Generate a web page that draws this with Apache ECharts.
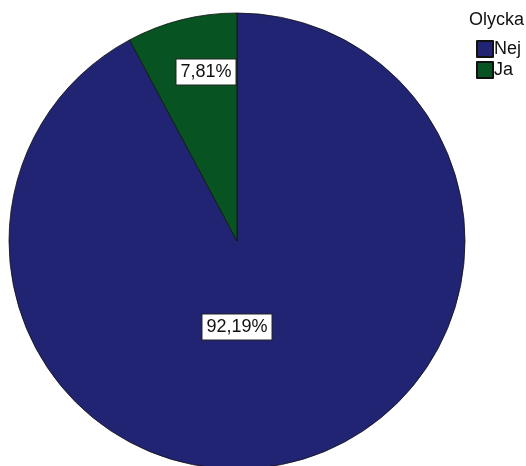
<!DOCTYPE html>
<html>
<head>
<meta charset="utf-8">
<script src="https://cdn.jsdelivr.net/npm/echarts@6/dist/echarts.min.js"></script>
<style>html,body{margin:0;padding:0;background:#fff;}#c{width:526px;height:466px;}</style>
</head>
<body>
<div id="c"></div>
<script>
const categories = ['Nej', 'Ja'];
const values = [92.19, 7.81];
const labelsText = ['92,19%', '7,81%'];
const colors = ['#212472', '#075321'];
const legendTitle = 'Olycka';

const chart = echarts.init(document.getElementById('c'), null, {renderer: 'canvas'});
const labelPos = [[237, 327], [206, 72]];
chart.setOption({
  animation: false,
  title: {
    text: legendTitle, left: 464, top: 6,
    textStyle: {fontFamily: 'Liberation Sans', fontSize: 18, fontWeight: 'normal', color: '#111'}
  },
  legend: {
    orient: 'vertical', left: 471, top: 35,
    icon: 'rect', itemWidth: 16, itemHeight: 16, itemGap: 3,
    textStyle: {fontFamily: 'Liberation Sans', fontSize: 18, color: '#111', padding: [0,0,0,-4]},
    data: categories
  },
  series: [{
    type: 'pie',
    center: [237, 241],
    radius: 228,
    startAngle: 90,
    clockwise: true,
    label: {
      show: true, position: 'inside',
      formatter: p => labelsText[p.dataIndex],
      fontFamily: 'Liberation Sans', fontSize: 18, color: '#111',
      backgroundColor: '#fff', borderColor: '#222', borderWidth: 1,
      padding: [4, 4, 3, 4], align: 'center', verticalAlign: 'middle'
    },
    labelLayout: p => ({x: labelPos[p.dataIndex][0], y: labelPos[p.dataIndex][1]}),
    labelLine: {show: false},
    itemStyle: {borderColor: '#111', borderWidth: 0.8},
    emphasis: {disabled: true},
    data: categories.map((c, i) => ({name: c, value: values[i], itemStyle: {color: colors[i]}}))
  }]
});
</script>
</body>
</html>
